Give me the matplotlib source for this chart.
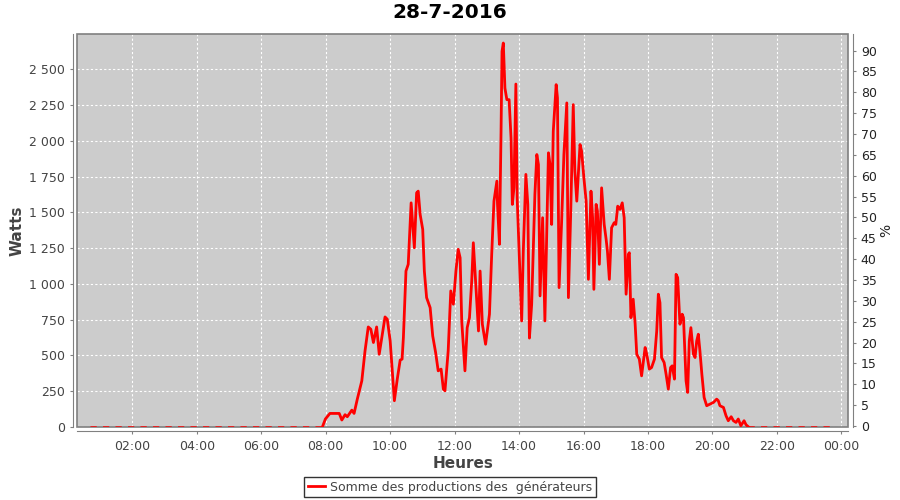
import matplotlib
matplotlib.use("Agg")
import matplotlib.pyplot as plt
from matplotlib.patches import Rectangle
from matplotlib.ticker import FuncFormatter

# Production du 28-7-2016 (heure decimale, watts)
day_hours = [7.90, 7.99, 8.13, 8.42, 8.50, 8.60, 8.67, 8.81, 8.88, 8.98,
             9.12, 9.22, 9.32, 9.40, 9.48, 9.58, 9.66, 9.74, 9.84, 9.91,
             10.00, 10.13, 10.22, 10.31, 10.37, 10.41, 10.49, 10.56, 10.65, 10.75,
             10.82, 10.87, 10.93, 11.01, 11.06, 11.13, 11.24, 11.32, 11.41, 11.49,
             11.58, 11.65, 11.70, 11.80, 11.88, 11.96, 12.04, 12.11, 12.17, 12.22,
             12.32, 12.39, 12.46, 12.53, 12.58, 12.65, 12.74, 12.79, 12.86, 12.96,
             13.08, 13.15, 13.22, 13.31, 13.33, 13.39, 13.44, 13.47, 13.51, 13.56,
             13.62, 13.69, 13.75, 13.79, 13.84, 13.90, 13.94, 14.08, 14.13, 14.21,
             14.27, 14.32, 14.39, 14.49, 14.55, 14.60, 14.65, 14.73, 14.80, 14.91,
             14.96, 15.01, 15.06, 15.15, 15.19, 15.24, 15.32, 15.39, 15.48, 15.53,
             15.60, 15.68, 15.73, 15.79, 15.89, 15.94, 16.01, 16.08, 16.15, 16.23,
             16.28, 16.32, 16.39, 16.43, 16.49, 16.56, 16.64, 16.70, 16.74, 16.80,
             16.87, 16.95, 17.00, 17.06, 17.13, 17.20, 17.26, 17.32, 17.39, 17.42,
             17.47, 17.54, 17.60, 17.65, 17.73, 17.80, 17.91, 17.96, 18.04, 18.11,
             18.20, 18.27, 18.32, 18.37, 18.42, 18.50, 18.56, 18.63, 18.70, 18.75,
             18.82, 18.87, 18.92, 18.99, 19.06, 19.10, 19.18, 19.23, 19.28, 19.33,
             19.41, 19.46, 19.51, 19.56, 19.61, 19.67, 19.74, 19.82, 19.92, 20.03,
             20.13, 20.18, 20.23, 20.34, 20.42, 20.49, 20.58, 20.65, 20.73, 20.80,
             20.88, 20.98, 21.04, 21.11]
day_watts = [0, 54, 93, 93, 47, 84, 70, 116, 93, 193,
             321, 531, 698, 682, 589, 698, 507, 624, 768, 752,
             600, 182, 333, 466, 473, 624, 1089, 1136, 1566, 1252,
             1636, 1648, 1485, 1380, 1089, 903, 833, 635, 519, 391,
             403, 263, 251, 531, 950, 857, 1089, 1241, 1182, 740,
             391, 693, 763, 1019, 1287, 1019, 670, 1089, 717, 577,
             787, 1206, 1578, 1718, 1555, 1276, 2067, 2626, 2684, 2369,
             2288, 2288, 2020, 1555, 1671, 2397, 1601, 740, 1229, 1765,
             1555, 620, 857, 1625, 1904, 1834, 915, 1462, 740, 1916,
             1834, 1415, 2067, 2393, 2300, 973, 1438, 1904, 2265, 903,
             1485, 2253, 1788, 1578, 1974, 1927, 1741, 1578, 1031, 1648,
             1462, 961, 1555, 1508, 1136, 1671, 1415, 1311, 1229, 1031,
             1392, 1427, 1415, 1543, 1520, 1566, 1462, 927, 1206, 1217,
             763, 892, 720, 507, 473, 356, 554, 507, 403, 414,
             473, 670, 927, 868, 484, 449, 368, 263, 414, 426,
             333, 1066, 1043, 717, 787, 763, 321, 240, 600, 693,
             507, 484, 600, 647, 531, 368, 205, 147, 158, 170,
             193, 182, 147, 135, 77, 42, 70, 42, 30, 54,
             7, 42, 14, 0]

# nuit : production nulle
night_am_hours = [0.69, 7.90]
night_am_watts = [0, 0]
night_pm_hours = [21.11, 23.75]
night_pm_watts = [0, 0]

tick_hours = [2, 4, 6, 8, 10, 12, 14, 16, 18, 20, 22, 24]
tick_labels = ["02:00", "04:00", "06:00", "08:00", "10:00", "12:00",
               "14:00", "16:00", "18:00", "20:00", "22:00", "00:00"]
watt_ticks = list(range(0, 2501, 250))
pct_ticks = list(range(0, 91, 5))

label_col = "#444444"
line_col = "#ff0000"


def thousands(v, pos):
    return "{:,}".format(int(v)).replace(",", " ")


fig = plt.figure(figsize=(9, 5), dpi=100)
ax = fig.add_axes([0.0859, 0.1454, 0.8567, 0.7860])
ax.set_facecolor("#cccccc")

ax.plot(night_am_hours, night_am_watts, color=line_col, lw=1.8,
        linestyle=(0, (2.5, 2.5)), zorder=6)
ax.plot(night_pm_hours, night_pm_watts, color=line_col, lw=1.8,
        linestyle=(0, (2.5, 2.5)), zorder=6)
ax.plot(day_hours, day_watts, color=line_col, lw=2.0, zorder=6,
        label="Somme des productions des  générateurs")

ax.set_xlim(0.293, 24.215)
ax.set_ylim(-4, 2745)

ax.set_xticks(tick_hours)
ax.set_xticklabels(tick_labels)
ax.set_yticks(watt_ticks)
ax.yaxis.set_major_formatter(FuncFormatter(thousands))
ax.grid(True, color="white", linestyle=(0, (2, 2)), lw=0.8)
ax.set_axisbelow(True)

# contour du graphique + axes decales
ax.add_patch(Rectangle((0, 0), 1, 1, transform=ax.transAxes, fill=False,
                       edgecolor="#808080", lw=1.2, clip_on=False, zorder=5))
for side in ["top", "right"]:
    ax.spines[side].set_visible(False)
for side in ["left", "bottom"]:
    ax.spines[side].set_position(("outward", 3))
    ax.spines[side].set_color("#808080")
ax.tick_params(colors="#808080", labelcolor=label_col, labelsize=9, length=2.5)

ax.set_xlabel("Heures", fontsize=11, fontweight="bold", color=label_col, labelpad=2)
ax.set_ylabel("Watts", fontsize=11, fontweight="bold", color=label_col, labelpad=3)

ax2 = ax.twinx()
ax2.set_ylim(-0.3, 93.9)
ax2.set_yticks(pct_ticks)
for side in ["top", "left", "bottom"]:
    ax2.spines[side].set_visible(False)
ax2.spines["right"].set_position(("outward", 3))
ax2.spines["right"].set_color("#808080")
ax2.tick_params(colors="#808080", labelcolor="#222222", labelsize=9, length=2.5)
ax2.set_ylabel("%", fontsize=10, color="#222222", labelpad=2)

fig.suptitle("28-7-2016", fontsize=14.5, fontweight="bold", y=0.993)

leg = fig.legend(loc="center", bbox_to_anchor=(0.5, 0.026), fontsize=9,
                 frameon=True, fancybox=False, edgecolor="black",
                 handlelength=1.4, handletextpad=0.4, borderpad=0.3,
                 borderaxespad=0)
leg.get_frame().set_linewidth(1.0)
for t in leg.get_texts():
    t.set_color(label_col)

fig.savefig("out.png", dpi=100)
